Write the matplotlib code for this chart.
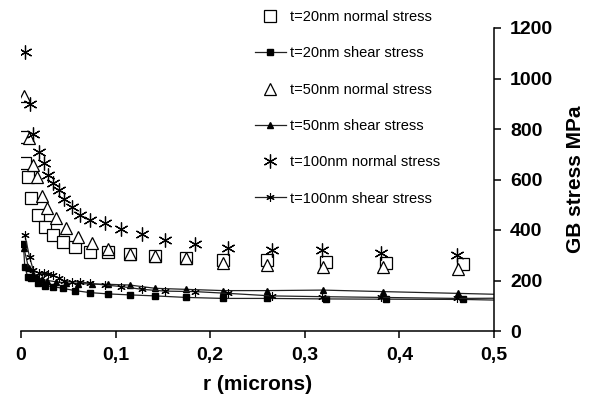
import matplotlib
matplotlib.use("Agg")
import matplotlib.pyplot as plt

plt.rcParams['font.family'] = ['Liberation Sans', 'DejaVu Sans']

# Distance from the grain boundary (microns) for each film thickness
r_20 = [0.0025, 0.004, 0.007, 0.011, 0.018, 0.025, 0.034, 0.044, 0.057, 0.073,
        0.092, 0.115, 0.142, 0.174, 0.214, 0.260, 0.322, 0.386, 0.467, 0.56]
r_50 = [0.003, 0.008, 0.013, 0.017, 0.022, 0.028, 0.037, 0.048, 0.060, 0.075,
        0.092, 0.115, 0.142, 0.174, 0.214, 0.260, 0.319, 0.383, 0.462, 0.56]
r_100 = [0.004, 0.009, 0.013, 0.019, 0.024, 0.029, 0.034, 0.040, 0.045, 0.054,
         0.062, 0.073, 0.089, 0.106, 0.128, 0.152, 0.184, 0.219, 0.265, 0.318,
         0.381, 0.461, 0.56]

# GB stresses (MPa)
normal_20 = [769, 665, 611, 527, 459, 412, 380, 352, 334, 314,
             314, 305, 297, 289, 281, 281, 274, 270, 265, 262]
shear_20 = [345, 255, 215, 209, 190, 179, 176, 169, 160, 152,
            147, 143, 139, 133, 129, 129, 127, 126, 125, 118]
normal_50 = [930, 764, 657, 611, 535, 487, 447, 408, 372, 348,
             325, 305, 297, 289, 270, 261, 255, 255, 245, 240]
shear_50 = [330, 250, 225, 215, 205, 200, 195, 190, 188, 186,
            185, 182, 169, 165, 160, 160, 162, 156, 149, 140]
normal_100 = [1105, 899, 780, 710, 665, 618, 586, 558, 523, 491,
              459, 440, 428, 403, 384, 360, 345, 329, 321, 321,
              307, 301, 298]
shear_100 = [380, 294, 241, 230, 228, 225, 220, 210, 200, 195,
             195, 189, 182, 176, 165, 158, 156, 149, 139, 136,
             133, 129, 131]

x_ticks = [0, 0.1, 0.2, 0.3, 0.4, 0.5]
x_tick_labels = ['0', '0,1', '0,2', '0,3', '0,4', '0,5']
y_ticks = [0, 200, 400, 600, 800, 1000, 1200]

asterisk = (6, 2, 0)

fig = plt.figure(figsize=(5.9, 3.99), dpi=100)
ax = fig.add_axes([21 / 590, 1 - 331 / 399, (494 - 21) / 590, (331 - 28) / 399])

ax.plot(r_20, normal_20, ls='none', marker='s', ms=8, mfc='white', mec='black',
        mew=0.9, label='t=20nm normal stress')
ax.plot(r_20, shear_20, ls='-', color='#222222', lw=0.9, marker='s', ms=4.5,
        mfc='black', mec='black', label='t=20nm shear stress')
ax.plot(r_50, normal_50, ls='none', marker='^', ms=9, mfc='white', mec='black',
        mew=0.9, label='t=50nm normal stress')
ax.plot(r_50, shear_50, ls='-', color='#222222', lw=0.9, marker='^', ms=5,
        mfc='black', mec='black', label='t=50nm shear stress')
ax.plot(r_100, normal_100, ls='none', marker=asterisk, ms=10, mec='black',
        mew=0.9, label='t=100nm normal stress')
ax.plot(r_100, shear_100, ls='-', color='#222222', lw=0.9, marker=asterisk, ms=6,
        mec='black', mew=0.8, label='t=100nm shear stress')

ax.set_xlim(0, 0.5)
ax.set_ylim(0, 1200)

ax.spines['top'].set_visible(False)
ax.spines['left'].set_visible(False)
ax.spines['bottom'].set_linewidth(1.1)
ax.spines['right'].set_linewidth(1.1)

ax.yaxis.tick_right()
ax.yaxis.set_label_position('right')
ax.set_xticks(x_ticks)
ax.set_xticklabels(x_tick_labels)
ax.set_yticks(y_ticks)
ax.tick_params(axis='both', direction='out', length=5, width=1.1,
               labelsize=14, pad=6.5)
for lab in ax.get_xticklabels() + ax.get_yticklabels():
    lab.set_fontweight('bold')

ax.set_xlabel('r (microns)', fontsize=15, fontweight='bold', labelpad=8)
ax.set_ylabel('GB stress MPa', fontsize=15, fontweight='bold', labelpad=9,
              rotation=90)

fig.legend(loc='upper left', bbox_to_anchor=(255 / 590, 1 - 10 / 399),
           frameon=False, fontsize=10.5, labelspacing=1.53, handlelength=2.1,
           handletextpad=0.3, borderpad=0, borderaxespad=0)

fig.savefig('out.png', dpi=100)
